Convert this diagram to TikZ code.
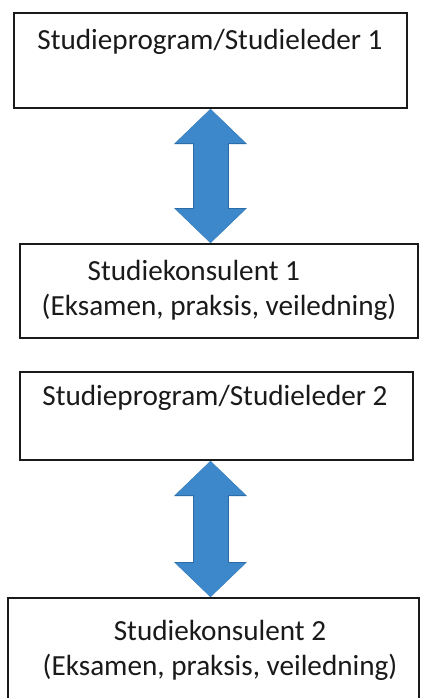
\documentclass[tikz,border=0pt]{standalone}
\usepackage{fontspec}
\setmainfont{Carlito}
\usetikzlibrary{arrows.meta, positioning, calc}
\definecolor{arrblue}{HTML}{3D88CA}
\definecolor{arrdark}{HTML}{2C6AA6}
\definecolor{inkblack}{HTML}{1A1A1A}

\begin{document}
\begin{tikzpicture}[x=1bp, y=1bp,
  every node/.style={text=inkblack, font=\fontsize{29.3}{35}\selectfont},
  box/.style={draw=inkblack, line width=2bp, fill=white, inner sep=0pt},
  txt/.style={inner sep=0pt, align=center},
  bigarrow/.style={arrblue, line width=34bp,
    {Triangle[width=70bp, length=34bp, line width=0pt]}-{Triangle[width=70bp, length=34bp, line width=0pt]},
    preaction={draw=arrdark, line width=36bp,
      {Triangle[width=73bp, length=35bp, line width=0pt]}-{Triangle[width=73bp, length=35bp, line width=0pt]}}},
]

% Page
\useasboundingbox (0,0) rectangle (420,-698);
\clip (0,0) rectangle (420,-698);
\fill[white] (0,0) rectangle (420,-698);

% First group
\node[box, minimum width=393bp, minimum height=95bp] (sl1) at (210.5,-60.5) {};
\node[txt] (sl1txt) at (210,-42) {Studieprogram/Studieleder 1};

\node[box, minimum width=398bp, minimum height=94bp] (sk1) at (219,-291) {};
\node[txt, align=left] (sk1txt) at (219,-290) {\hspace*{46bp}Studiekonsulent 1\\(Eksamen, praksis, veiledning)};

\draw[bigarrow] (sl1.south) -- (sl1.south |- sk1.north);

% Second group
\node[box, minimum width=393bp, minimum height=88bp] (sl2) at (216.5,-416) {};
\node[txt] (sl2txt) at (215,-398) {Studieprogram/Studieleder 2};

\node[box, minimum width=411bp, minimum height=122bp] (sk2) at (213.5,-659) {};
\node[txt] (sk2txt) at (220,-650) {Studiekonsulent 2\\(Eksamen, praksis, veiledning)};

\draw[bigarrow] (sl2.south -| sl1.south) -- (sl1.south |- sk2.north);

\end{tikzpicture}
\end{document}
